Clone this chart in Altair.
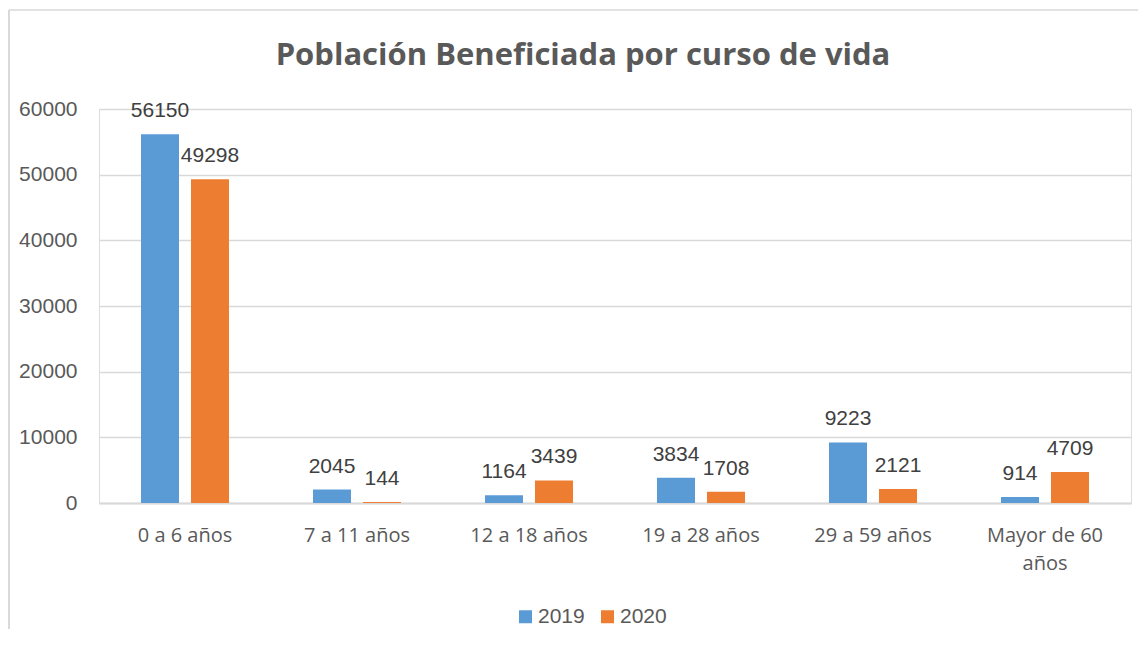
import altair as alt
import pandas as pd

categories = ["0 a 6 años", "7 a 11 años", "12 a 18 años", "19 a 28 años", "29 a 59 años", "Mayor de 60 años"]
series = ["2019", "2020"]
values_2019 = [56150, 2045, 1164, 3834, 9223, 914]
values_2020 = [49298, 144, 3439, 1708, 2121, 4709]
y_ticks = [0, 10000, 20000, 30000, 40000, 50000, 60000]
colors = ["#5B9BD5", "#ED7D31"]
title_text = "Población Beneficiada por curso de vida"

rows = []
for c, v19, v20 in zip(categories, values_2019, values_2020):
    rows.append({"categoria": c, "serie": "2019", "valor": v19})
    rows.append({"categoria": c, "serie": "2020", "valor": v20})
df = pd.DataFrame(rows)

NUMFONT = "Liberation Sans, Arial, sans-serif"

base = alt.Chart(df).encode(
    x=alt.X(
        "categoria:N",
        sort=categories,
        scale=alt.Scale(paddingInner=0, paddingOuter=0),
        axis=alt.Axis(
            title=None,
            labelAngle=0,
            labelFont="Open Sans",
            labelFontSize=20,
            labelColor="#595959",
            labelPadding=22,
            labelLineHeight=28,
            labelBaseline="top",
            labelExpr="datum.value == 'Mayor de 60 años' ? ['Mayor de 60', 'años'] : datum.value",
            ticks=False,
            domain=True,
            domainColor="#D9D9D9",
            domainWidth=2,
            grid=False,
        ),
    ),
    xOffset=alt.XOffset(
        "serie:N",
        sort=series,
        scale=alt.Scale(paddingInner=0.24, paddingOuter=0.84),
    ),
    y=alt.Y(
        "valor:Q",
        scale=alt.Scale(domain=[0, 60000], nice=False),
        axis=alt.Axis(
            title=None,
            values=y_ticks,
            format="d",
            labelFont=NUMFONT,
            labelFontSize=21,
            labelColor="#595959",
            labelPadding=22,
            ticks=False,
            domain=False,
            grid=True,
            gridColor="#D9D9D9",
            gridWidth=1.5,
        ),
    ),
)

bars = base.mark_bar().encode(
    color=alt.Color(
        "serie:N",
        sort=series,
        scale=alt.Scale(domain=series, range=colors),
        legend=alt.Legend(
            title=None,
            orient="none",
            direction="horizontal",
            legendX=416,
            legendY=497,
            symbolType="square",
            symbolSize=169,
            symbolStrokeWidth=0,
            symbolOpacity=1,
            labelFont=NUMFONT,
            labelFontSize=21,
            labelColor="#595959",
            labelOffset=2,
            columnPadding=12,
        ),
    )
)

labels = base.mark_text(
    baseline="alphabetic",
    align="center",
    dy=-17,
    font=NUMFONT,
    fontSize=21,
    color="#404040",
).encode(text=alt.Text("valor:Q", format="d"))

frame = pd.DataFrame({"t": [title_text]})
left_border = alt.Chart(frame).mark_rule(color="#D9D9D9", strokeWidth=2).encode(
    x=alt.value(-90), x2=alt.value(-90), y=alt.value(-99), y2=alt.value(530)
)
top_border = alt.Chart(frame).mark_rule(color="#D9D9D9", strokeWidth=1.5).encode(
    x=alt.value(-90), x2=alt.value(1040), y=alt.value(-99), y2=alt.value(-99)
)
title = alt.Chart(frame).mark_text(
    font="Open Sans",
    fontSize=31,
    fontWeight="bold",
    color="#595959",
    align="center",
    baseline="middle",
).encode(text="t:N", x=alt.value(484), y=alt.value(-53))

chart = alt.layer(left_border, top_border, bars, labels, title).properties(
    width=1032,
    height=394,
    autosize=alt.AutoSizeParams(type="none"),
    padding={"left": 91, "top": 101, "right": 7, "bottom": 126},
).configure_view(stroke=None).configure(background="white")

chart.save("out.html", embed_options={"renderer": "svg", "actions": False})
